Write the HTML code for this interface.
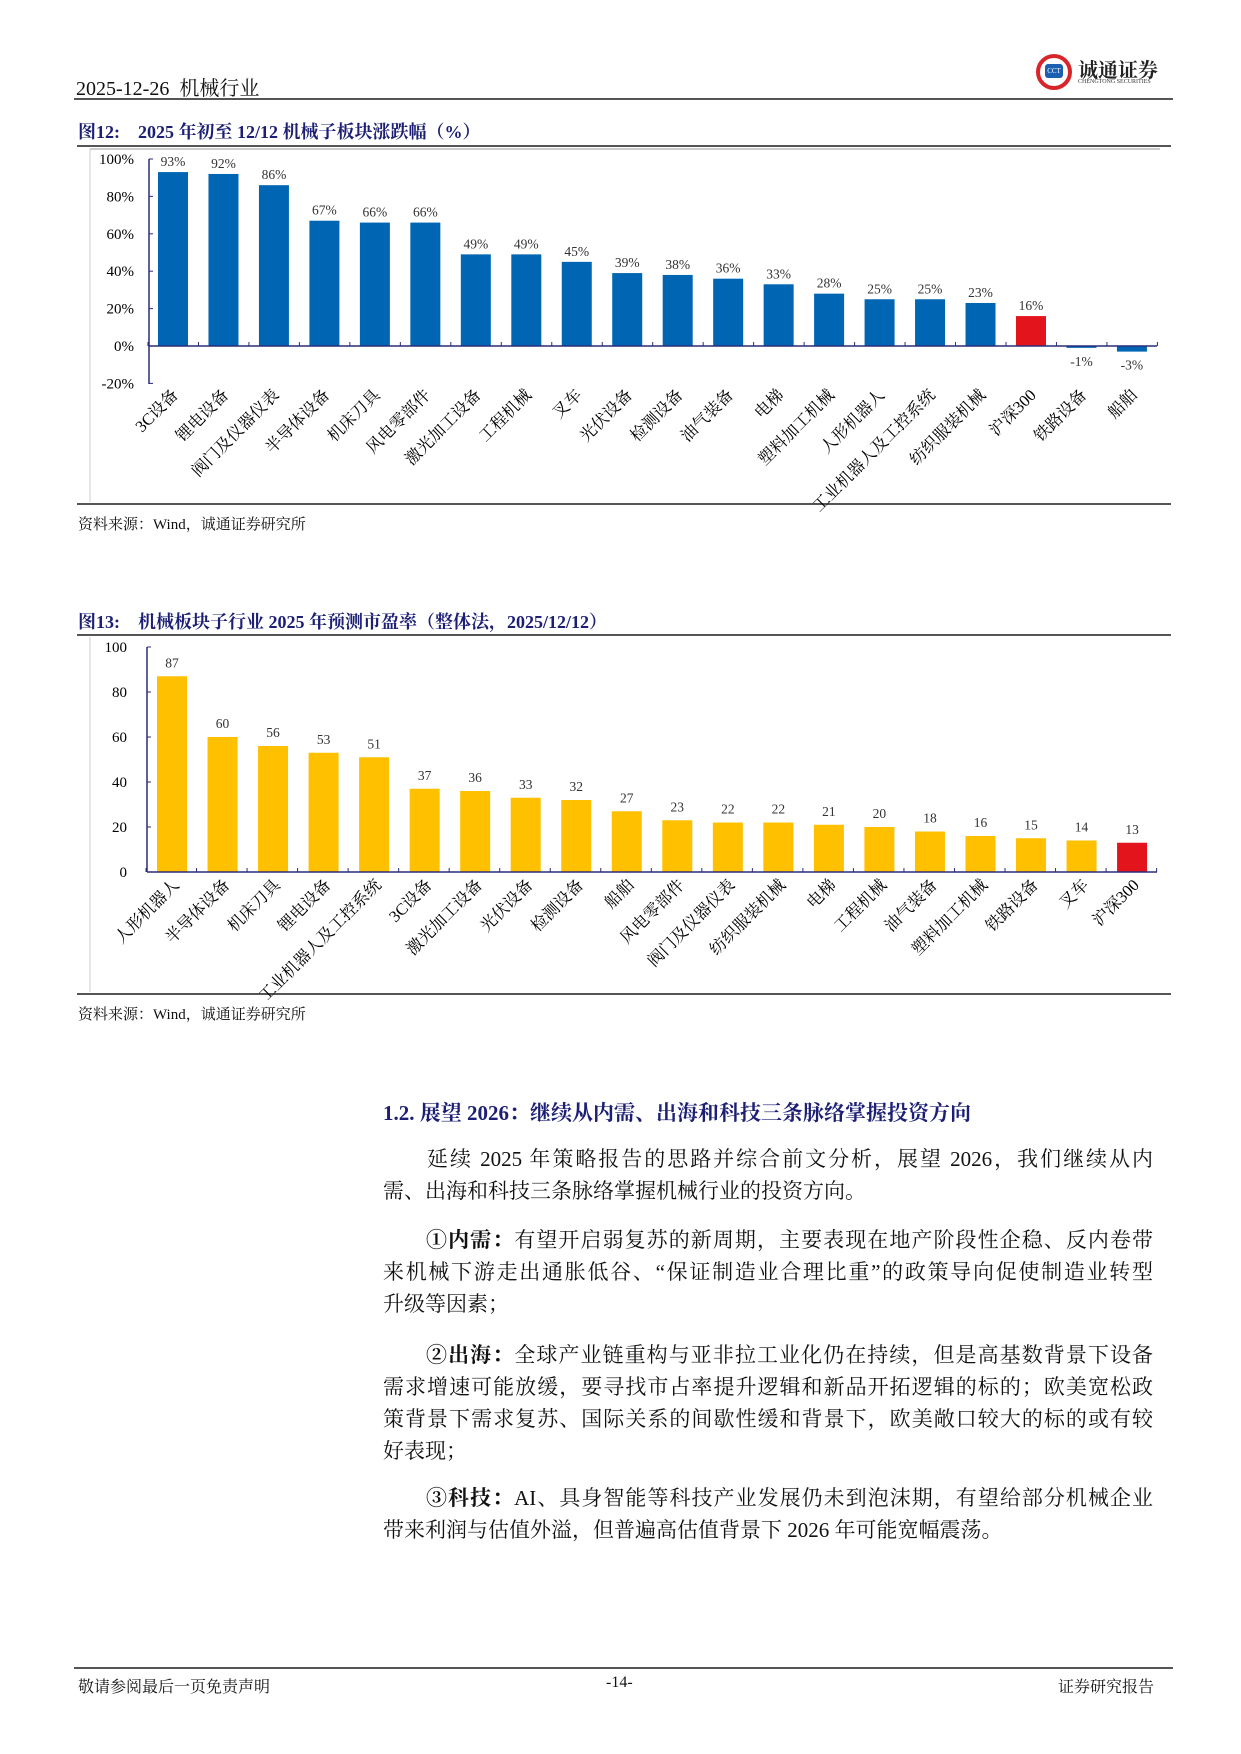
<!DOCTYPE html>
<html><head><meta charset="utf-8"><style>
body{margin:0;background:#fff;}
.pg{position:relative;width:1241px;height:1754px;overflow:hidden;font-family:"Liberation Serif","Noto Serif CJK SC",serif;color:#111;}
.a{position:absolute;white-space:nowrap;}
.ttl{font-weight:bold;color:#1c1f74;font-size:18px;}
.hl{position:absolute;height:2px;background:#555;}
.p{position:absolute;left:383px;width:770px;font-size:21px;line-height:32px;}
.p div{text-align:justify;text-align-last:justify;white-space:nowrap;}
.p div.l{text-align-last:left;}
</style></head><body><div class="pg">
<div class="a" style="left:76px;top:72px;font-size:20px;">2025-12-26&nbsp; 机械行业</div>
<div class="a" style="left:1036px;top:54px;width:36px;height:36px;border-radius:50%;border:4px solid #d8252a;box-sizing:border-box;"></div>
<div class="a" style="left:1045px;top:64px;width:18px;height:14px;background:#1a5fb0;border-radius:3px;color:#fff;font-size:7px;text-align:center;line-height:14px;">CCT</div>
<div class="a" style="left:1078px;top:54px;font-size:20px;font-weight:bold;color:#222;">诚通证券</div>
<div class="a" style="left:1078px;top:79px;font-size:6px;color:#333;">CHENGTONG SECURITIES</div>
<div class="hl" style="left:74px;top:98px;width:1099px;"></div>

<div class="a ttl" style="left:78px;top:118px;">图12:&nbsp;&nbsp;&nbsp; 2025 年初至 12/12 机械子板块涨跌幅（%）</div>
<div class="hl" style="left:77px;top:145px;width:1094px;"></div>
<div class="hl" style="left:77px;top:503px;width:1094px;"></div>
<div class="a" style="left:78px;top:513px;font-size:15px;">资料来源：Wind，诚通证券研究所</div>

<div class="a ttl" style="left:78px;top:608px;">图13:&nbsp;&nbsp;&nbsp; 机械板块子行业 2025 年预测市盈率（整体法，2025/12/12）</div>
<div class="hl" style="left:77px;top:634px;width:1094px;"></div>
<div class="hl" style="left:77px;top:993px;width:1094px;"></div>
<div class="a" style="left:78px;top:1003px;font-size:15px;">资料来源：Wind，诚通证券研究所</div>

<svg class="a" style="left:0;top:0" width="1241" height="1000" font-family="Liberation Serif, Noto Serif CJK SC, serif">
<line x1="90" y1="149" x2="1160" y2="149" stroke="#ccc" stroke-width="2"/>
<line x1="90" y1="149" x2="90" y2="502" stroke="#ccc" stroke-width="1"/>
<line x1="90" y1="637" x2="90" y2="992" stroke="#ccc" stroke-width="1"/>
<g id="c1"></g><g id="c2"></g>
</svg>

<div class="a" style="left:383px;top:1097px;font-size:21px;font-weight:bold;color:#1c1f74;">1.2. 展望 2026：继续从内需、出海和科技三条脉络掌握投资方向</div>
<div class="p" style="top:1143px;"><div>&emsp;&emsp;延续 2025 年策略报告的思路并综合前文分析，展望 2026，我们继续从内</div><div class="l">需、出海和科技三条脉络掌握机械行业的投资方向。</div></div>
<div class="p" style="top:1224px;"><div>&emsp;&emsp;<b>①内需：</b>有望开启弱复苏的新周期，主要表现在地产阶段性企稳、反内卷带</div><div>来机械下游走出通胀低谷、“保证制造业合理比重”的政策导向促使制造业转型</div><div class="l">升级等因素；</div></div>
<div class="p" style="top:1339px;"><div>&emsp;&emsp;<b>②出海：</b>全球产业链重构与亚非拉工业化仍在持续，但是高基数背景下设备</div><div>需求增速可能放缓，要寻找市占率提升逻辑和新品开拓逻辑的标的；欧美宽松政</div><div>策背景下需求复苏、国际关系的间歇性缓和背景下，欧美敞口较大的标的或有较</div><div class="l">好表现；</div></div>
<div class="p" style="top:1482px;"><div>&emsp;&emsp;<b>③科技：</b>AI、具身智能等科技产业发展仍未到泡沫期，有望给部分机械企业</div><div class="l">带来利润与估值外溢，但普遍高估值背景下 2026 年可能宽幅震荡。</div></div>

<div class="hl" style="left:74px;top:1667px;width:1099px;"></div>
<div class="a" style="left:78px;top:1674px;font-size:16px;">敬请参阅最后一页免责声明</div>
<div class="a" style="left:606px;top:1674px;font-size:16px;">-14-</div>
<div class="a" style="left:1058px;top:1674px;font-size:16px;">证券研究报告</div>
</div>
<script>
(function(){
var NS="http://www.w3.org/2000/svg";
function el(p,t,a,tx){var e=document.createElementNS(NS,t);for(var q in a)e.setAttribute(q,a[q]);if(tx!==undefined)e.textContent=tx;p.appendChild(e);return e;}
var c1=document.getElementById('c1');
var n1=["3C设备","锂电设备","阀门及仪器仪表","半导体设备","机床刀具","风电零部件","激光加工设备","工程机械","叉车","光伏设备","检测设备","油气装备","电梯","塑料加工机械","人形机器人","工业机器人及工控系统","纺织服装机械","沪深300","铁路设备","船舶"];
var v1=[93,92,86,67,66,66,49,49,45,39,38,36,33,28,25,25,23,16,-1,-3];
var y0=346,k=1.87,i,t,y,cx,v,col,tp,h,x;
el(c1,'line',{x1:149,y1:159,x2:149,y2:384,stroke:'#2b2b7a','stroke-width':1.5});
for(t=-20;t<=100;t+=20){y=y0-t*k;el(c1,'line',{x1:149,y1:y,x2:153,y2:y,stroke:'#2b2b7a'});el(c1,'text',{x:134,y:y+5,'text-anchor':'end','font-size':15},t+'%');}
for(i=0;i<20;i++){cx=173+i*50.47;v=v1[i];col=i==17?'#e3141b':'#0066b3';tp=Math.min(y0,y0-v*k);h=Math.abs(v*k);
el(c1,'rect',{x:cx-15,y:tp,width:30,height:h,fill:col});
el(c1,'text',{x:cx,y:v>=0?tp-6:y0+h+18,'text-anchor':'middle','font-size':13.5,fill:'#333'},v+'%');
el(c1,'text',{x:cx+6,y:396,'text-anchor':'end','font-size':16.5,transform:'rotate(-45 '+(cx+6)+' 396)'},n1[i]);}
el(c1,'line',{x1:149,y1:y0,x2:1157,y2:y0,stroke:'#2b2b7a','stroke-width':1.5});
for(i=0;i<=20;i++){x=148+i*50.47;el(c1,'line',{x1:x,y1:y0,x2:x,y2:y0-4,stroke:'#2b2b7a'});}
var c2=document.getElementById('c2');
var n2=["人形机器人","半导体设备","机床刀具","锂电设备","工业机器人及工控系统","3C设备","激光加工设备","光伏设备","检测设备","船舶","风电零部件","阀门及仪器仪表","纺织服装机械","电梯","工程机械","油气装备","塑料加工机械","铁路设备","叉车","沪深300"];
var v2=[87,60,56,53,51,37,36,33,32,27,23,22,22,21,20,18,16,15,14,13];
y0=872;k=2.25;
el(c2,'line',{x1:147,y1:647,x2:147,y2:872,stroke:'#2b2b7a','stroke-width':1.5});
for(t=0;t<=100;t+=20){y=y0-t*k;el(c2,'line',{x1:147,y1:y,x2:151,y2:y,stroke:'#2b2b7a'});el(c2,'text',{x:127,y:y+5,'text-anchor':'end','font-size':15},t);}
for(i=0;i<20;i++){cx=172+i*50.53;v=v2[i];col=i==19?'#e3141b':'#ffc000';tp=y0-v*k;
el(c2,'rect',{x:cx-15,y:tp,width:30,height:v*k,fill:col});
el(c2,'text',{x:cx,y:tp-9,'text-anchor':'middle','font-size':13.5,fill:'#333'},v);
el(c2,'text',{x:cx+8,y:886,'text-anchor':'end','font-size':16.5,transform:'rotate(-45 '+(cx+8)+' 886)'},n2[i]);}
el(c2,'line',{x1:147,y1:y0,x2:1157,y2:y0,stroke:'#2b2b7a','stroke-width':1.5});
for(i=0;i<=20;i++){x=146+i*50.53;el(c2,'line',{x1:x,y1:y0,x2:x,y2:y0-4,stroke:'#2b2b7a'});}
})();
</script>
</body></html>
